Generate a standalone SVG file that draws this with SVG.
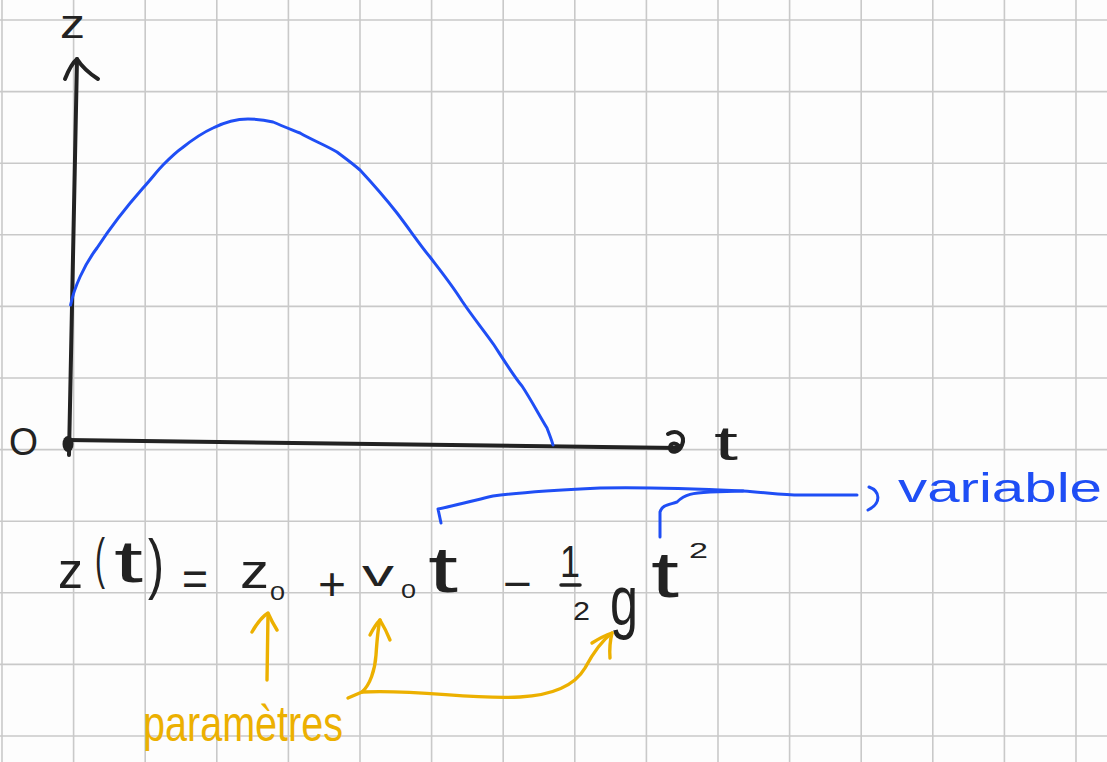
<svg xmlns="http://www.w3.org/2000/svg" width="1107" height="762" viewBox="0 0 1107 762">
<defs>
<style>
.grid line{stroke:#c9c9c9;stroke-width:1.6}
.ax{fill:none;stroke:#222;stroke-width:4;stroke-linecap:round;stroke-linejoin:round}
.blue{fill:none;stroke:#1f4ef5;stroke-width:3;stroke-linecap:round;stroke-linejoin:round}
.org{fill:none;stroke:#ecb000;stroke-width:3.4;stroke-linecap:round;stroke-linejoin:round}
.blk{fill:#222;font-family:"Liberation Sans",Arial,sans-serif}
.bt{fill:#1f4ef5;font-family:"Liberation Sans",Arial,sans-serif}
.ot{fill:#ecb000;font-family:"Liberation Sans",Arial,sans-serif}
</style>
</defs>
<rect width="1107" height="762" fill="#fdfdfd"/>
<g class="grid" id="grid">
<line x1="2" y1="0" x2="2" y2="762"/>
<line x1="73.6" y1="0" x2="73.6" y2="762"/>
<line x1="145.2" y1="0" x2="145.2" y2="762"/>
<line x1="216.8" y1="0" x2="216.8" y2="762"/>
<line x1="288.4" y1="0" x2="288.4" y2="762"/>
<line x1="360" y1="0" x2="360" y2="762"/>
<line x1="431.6" y1="0" x2="431.6" y2="762"/>
<line x1="503.2" y1="0" x2="503.2" y2="762"/>
<line x1="574.8" y1="0" x2="574.8" y2="762"/>
<line x1="646.4" y1="0" x2="646.4" y2="762"/>
<line x1="718" y1="0" x2="718" y2="762"/>
<line x1="789.6" y1="0" x2="789.6" y2="762"/>
<line x1="861.2" y1="0" x2="861.2" y2="762"/>
<line x1="932.8" y1="0" x2="932.8" y2="762"/>
<line x1="1004.4" y1="0" x2="1004.4" y2="762"/>
<line x1="1076" y1="0" x2="1076" y2="762"/>
<line x1="0" y1="20" x2="1107" y2="20"/>
<line x1="0" y1="91.6" x2="1107" y2="91.6"/>
<line x1="0" y1="163.2" x2="1107" y2="163.2"/>
<line x1="0" y1="234.8" x2="1107" y2="234.8"/>
<line x1="0" y1="306.4" x2="1107" y2="306.4"/>
<line x1="0" y1="378" x2="1107" y2="378"/>
<line x1="0" y1="449.6" x2="1107" y2="449.6"/>
<line x1="0" y1="521.2" x2="1107" y2="521.2"/>
<line x1="0" y1="592.8" x2="1107" y2="592.8"/>
<line x1="0" y1="664.4" x2="1107" y2="664.4"/>
<line x1="0" y1="736" x2="1107" y2="736"/>
</g>
<g id="axes">
<path class="ax" d="M69,455 L77,59"/>
<path class="ax" d="M65,79 Q71,64 77,59 Q84,70 98,79"/>
<path class="ax" d="M67,440 L678,448"/>
<path class="ax" d="M668,434 C677,429 686,435 682,445 C679,453 670,454 670,448 C670,443 675,442 679,446" stroke-width="3.5"/>
<ellipse cx="68" cy="444" rx="5.5" ry="8" fill="#222"/>
<text class="blk" x="60" y="38" font-size="40" textLength="25" lengthAdjust="spacingAndGlyphs">z</text>
<text class="blk" x="9" y="455" font-size="39" textLength="29" lengthAdjust="spacingAndGlyphs">O</text>
<text class="blk" x="714" y="460" font-size="48" textLength="24" lengthAdjust="spacingAndGlyphs">t</text>
</g>
<g id="curve">
<path class="blue" d="M70.6,305 C74,288 84,265 97,248 C110,228 128,205 143,188 C152,178 158,170 163,165 C170,158 176,152 182,148 C192,140 202,133 213,128 C225,122 236,119 248,119 C258,119 265,120 273,122 C282,126 290,129 300,133 C312,140 325,145 337,152 C345,158 352,163 360,170 C373,184 386,199 397,213 C410,230 420,245 430,257 C440,270 452,285 462,301 C472,316 485,332 494,345 C505,362 515,378 522,386 C530,398 538,413 547,428 C550,436 552,441 553,445" stroke-width="2.6"/>
</g>
<g id="equation">
<text class="blk" x="58" y="588" font-size="52" textLength="25" lengthAdjust="spacingAndGlyphs">z</text>
<text class="blk" x="95" y="577" font-size="56" textLength="10" lengthAdjust="spacingAndGlyphs">(</text>
<text class="blk" x="114" y="582" font-size="60" textLength="29" lengthAdjust="spacingAndGlyphs">t</text>
<text class="blk" x="148" y="586" font-size="66" textLength="16" lengthAdjust="spacingAndGlyphs">)</text>
<text class="blk" x="182" y="595" font-size="48" textLength="26" lengthAdjust="spacingAndGlyphs">=</text>
<text class="blk" x="240" y="588" font-size="48" textLength="29" lengthAdjust="spacingAndGlyphs">z</text>
<text class="blk" x="270" y="600" font-size="20" textLength="15" lengthAdjust="spacingAndGlyphs">0</text>
<text class="blk" x="318" y="600" font-size="46" textLength="28" lengthAdjust="spacingAndGlyphs">+</text>
<text class="blk" x="362" y="586" font-size="36" textLength="32" lengthAdjust="spacingAndGlyphs">v</text>
<text class="blk" x="401" y="598" font-size="20" textLength="15" lengthAdjust="spacingAndGlyphs">0</text>
<text class="blk" x="428" y="592" font-size="64" textLength="30" lengthAdjust="spacingAndGlyphs">t</text>
<text class="blk" x="503" y="599" font-size="44" textLength="29" lengthAdjust="spacingAndGlyphs">−</text>
<text class="blk" x="560" y="577" font-size="44" textLength="20" lengthAdjust="spacingAndGlyphs">1</text>
<line x1="561" y1="585" x2="580" y2="585" stroke="#222" stroke-width="3.5" stroke-linecap="round"/>
<text class="blk" x="573" y="620" font-size="26" textLength="17" lengthAdjust="spacingAndGlyphs">2</text>
<text class="blk" x="610" y="625" font-size="70" textLength="28" lengthAdjust="spacingAndGlyphs">g</text>
<text class="blk" x="651" y="597" font-size="64" textLength="28" lengthAdjust="spacingAndGlyphs">t</text>
<text class="blk" x="689" y="558" font-size="22" textLength="19" lengthAdjust="spacingAndGlyphs">2</text>
</g>
<g id="variable">
<text class="bt" x="898" y="502" font-size="40" textLength="204" lengthAdjust="spacingAndGlyphs">variable</text>
</g>
<g id="parametres">
<text class="ot" x="143" y="741" font-size="50" textLength="200" lengthAdjust="spacingAndGlyphs">paramètres</text>
</g>
<g id="connectors">
<path class="blue" d="M441,523 L438,509 C452,506 468,502 493,496 C520,492 560,490 600,488 C640,487 700,489 743,491 C770,493 785,495 800,495 L857,495"/>
<path class="blue" d="M869,487 C880,491 882,503 868,510"/>
<path class="blue" d="M660,537 L660,512 C662,505 668,505 677,502 C685,494 693,493 710,492 L743,491"/>
<path class="org" d="M267,680 L268,614"/>
<path class="org" d="M252,632 Q260,618 268,613 Q272,622 277,630"/>
<path class="org" d="M348,698 L362,692 C370,685 375,670 376,655 C377,640 378,628 380,620"/>
<path class="org" d="M370,635 Q375,625 380,620 Q386,630 390,640"/>
<path class="org" d="M362,692 C420,689 470,700 520,697 C555,695 575,685 585,668 C592,655 600,642 612,633"/>
<path class="org" d="M592,643 Q603,636 612,633 Q609,645 610,658"/>
</g>
</svg>
